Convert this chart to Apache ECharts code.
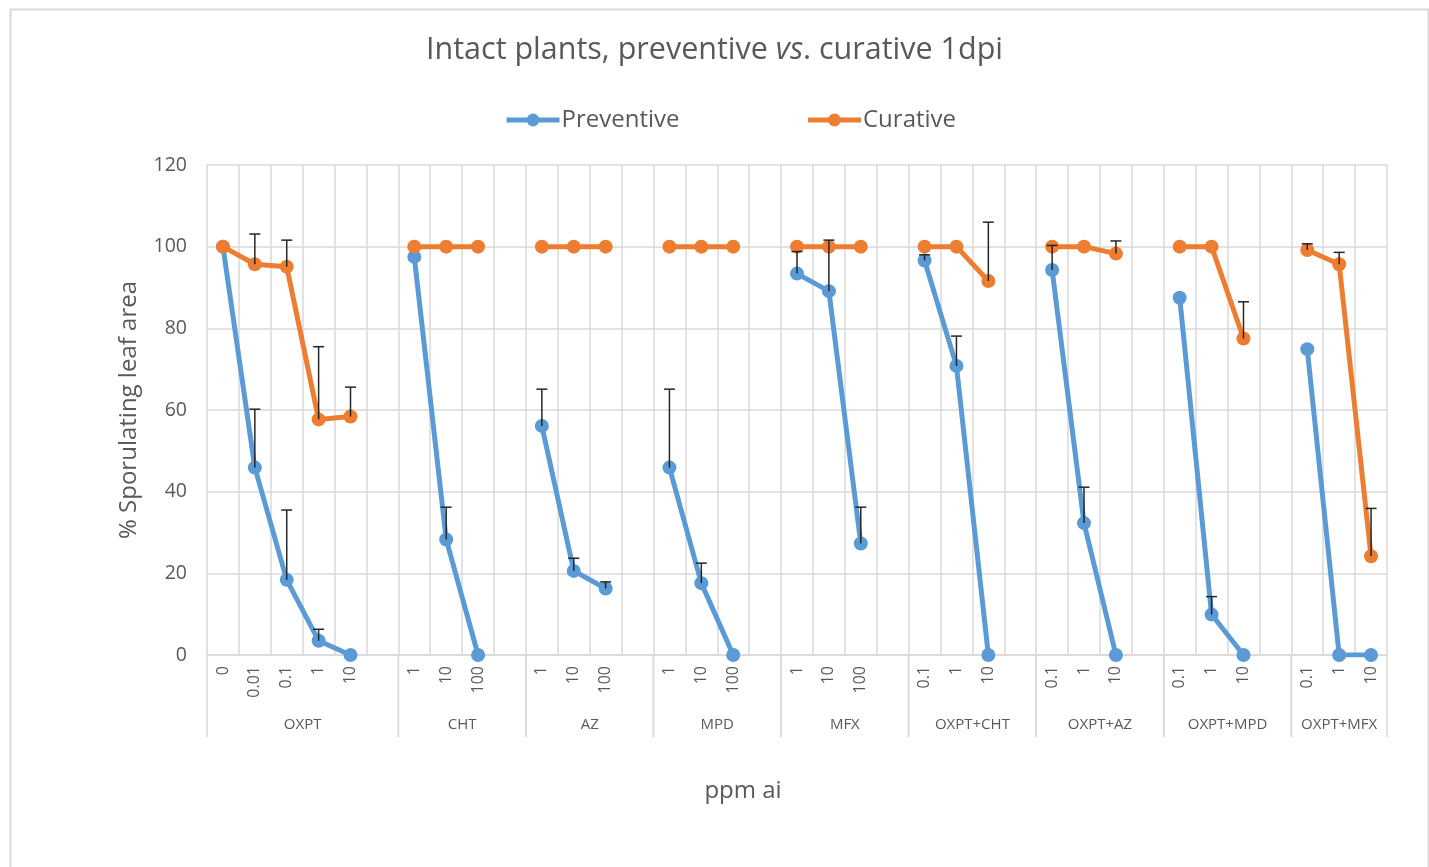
<!DOCTYPE html>
<html>
<head>
<meta charset="utf-8">
<script src="https://cdn.jsdelivr.net/npm/echarts@6/dist/echarts.min.js"></script>
<style>
html,body{margin:0;padding:0;background:#fff;}
#chart{width:1429px;height:867px;}
</style>
</head>
<body>
<div id="chart"></div>
<script>
// ---- data ----
const categories = [
  '0','0.01','0.1','1','10','',
  '1','10','100','',
  '1','10','100','',
  '1','10','100','',
  '1','10','100','',
  '0.1','1','10','',
  '0.1','1','10','',
  '0.1','1','10','',
  '0.1','1','10'
];
const groupNames = ['OXPT','CHT','AZ','MPD','MFX','OXPT+CHT','OXPT+AZ','OXPT+MPD','OXPT+MFX'];
const groupSizes = [6,4,4,4,4,4,4,4,3];

const preventive = [
  100, 45.9, 18.4, 3.5, 0, null,
  97.5, 28.3, 0, null,
  56.1, 20.6, 16.3, null,
  45.9, 17.6, 0, null,
  93.4, 89.1, 27.3, null,
  96.6, 70.8, 0, null,
  94.3, 32.3, 0, null,
  87.5, 9.9, 0, null,
  74.9, 0, 0
];
const preventiveErr = [
  null, 14.3, 17.1, 2.8, null, null,
  null, 7.9, null, null,
  9.0, 3.1, 1.6, null,
  19.2, 4.9, null, null,
  5.4, 12.5, 8.9, null,
  1.4, 7.3, null, null,
  6.0, 8.8, null, null,
  null, 4.4, null, null,
  null, null, null
];
const curative = [
  100, 95.7, 95.1, 57.7, 58.4, null,
  100, 100, 100, null,
  100, 100, 100, null,
  100, 100, 100, null,
  100, 100, 100, null,
  100, 100, 91.6, null,
  100, 100, 98.3, null,
  100, 100, 77.5, null,
  99.2, 95.7, 24.2
];
const curativeErr = [
  null, 7.4, 6.5, 17.8, 7.2, null,
  null, null, null, null,
  null, null, null, null,
  null, null, null, null,
  null, null, null, null,
  null, null, 14.4, null,
  null, null, 3.1, null,
  null, null, 9.0, null,
  1.5, 2.9, 11.7
];
const yTicks = {min: 0, max: 120, interval: 20};

// ---- derived ----
const groupData = [];
let start = 0;
groupSizes.forEach((n, i) => { groupData.push([start, start + n - 1, 0, i]); start += n; });

function errData(vals, errs) {
  const out = [];
  vals.forEach((v, i) => { if (v != null && errs[i] != null) out.push([i, v, v + errs[i]]); });
  return out;
}

const FONT = '"Open Sans", "Noto Sans", sans-serif';
const TXT = '#595959';
const GRID = '#d9d9d9';
const BLUE = '#5B9BD5';
const ORANGE = '#ED7D31';

function errRender(params, api) {
  const x = api.value(0);
  const lo = api.coord([x, api.value(1)]);
  const hi = api.coord([x, api.value(2)]);
  const half = 5.5;
  return {
    type: 'group',
    children: [
      {type: 'line', shape: {x1: lo[0], y1: lo[1], x2: hi[0], y2: hi[1]}, style: {stroke: '#262626', lineWidth: 1.5}},
      {type: 'line', shape: {x1: hi[0] - half, y1: hi[1], x2: hi[0] + half, y2: hi[1]}, style: {stroke: '#262626', lineWidth: 1.5}}
    ]
  };
}

const chart = echarts.init(document.getElementById('chart'), null, {renderer: 'canvas'});
chart.setOption({
  backgroundColor: '#fff',
  animation: false,
  graphic: [{
    type: 'rect', left: 8, top: 7, shape: {width: 1418, height: 880},
    style: {fill: 'none', stroke: GRID, lineWidth: 2}, silent: true
  }],
  title: {
    text: 'Intact plants, preventive {i|vs}. curative 1dpi',
    left: 'center', top: 30,
    textStyle: {
      fontFamily: FONT, fontSize: 30.5, fontWeight: 'normal', color: TXT,
      rich: {i: {fontFamily: FONT, fontSize: 30.5, fontStyle: 'italic', color: TXT}}
    }
  },
  legend: {
    left: 504, top: 108, padding: 0,
    itemWidth: 53, itemHeight: 16, itemGap: 126,
    lineStyle: {width: 5},
    textStyle: {fontFamily: FONT, fontSize: 24, color: TXT, padding: [0, 0, 0, -3]},
    data: ['Preventive', 'Curative']
  },
  grid: {left: 207, right: 42, top: 165, bottom: 212, containLabel: false},
  xAxis: {
    type: 'category',
    data: categories,
    boundaryGap: true,
    name: 'ppm ai',
    nameLocation: 'middle',
    nameGap: 124,
    nameTextStyle: {fontFamily: FONT, fontSize: 24, color: TXT, padding: [0, 108, 0, 0]},
    axisLine: {show: true, lineStyle: {color: GRID, width: 1.5}},
    axisTick: {show: false},
    splitLine: {show: true, interval: 0, lineStyle: {color: GRID, width: 1.5}},
    axisLabel: {interval: 0, rotate: 90, margin: 11, fontFamily: FONT, fontSize: 16, color: TXT}
  },
  yAxis: {
    type: 'value',
    min: yTicks.min, max: yTicks.max, interval: yTicks.interval,
    name: '% Sporulating leaf area',
    nameLocation: 'middle',
    nameGap: 66,
    nameTextStyle: {fontFamily: FONT, fontSize: 24, color: TXT},
    axisLine: {show: false},
    axisTick: {show: false},
    splitLine: {show: true, lineStyle: {color: GRID, width: 1.5}},
    axisLabel: {margin: 20, fontFamily: FONT, fontSize: 19.5, color: TXT}
  },
  series: [
    {
      name: 'Preventive', type: 'line', data: preventive, connectNulls: false,
      symbol: 'circle', symbolSize: 14, z: 2,
      lineStyle: {color: BLUE, width: 5}, itemStyle: {color: BLUE}
    },
    {
      name: 'Curative', type: 'line', data: curative, connectNulls: false,
      symbol: 'circle', symbolSize: 14, z: 3,
      lineStyle: {color: ORANGE, width: 5}, itemStyle: {color: ORANGE}
    },
    {
      type: 'custom', name: 'prevErr', data: errData(preventive, preventiveErr),
      encode: {x: 0, y: [1, 2]}, renderItem: errRender, z: 4, silent: true
    },
    {
      type: 'custom', name: 'curErr', data: errData(curative, curativeErr),
      encode: {x: 0, y: [1, 2]}, renderItem: errRender, z: 4, silent: true
    },
    {
      type: 'custom', name: 'groups', data: groupData, clip: false, silent: true,
      encode: {x: [0, 1], y: 2},
      renderItem: function (params, api) {
        const s = api.value(0), e = api.value(1), gi = api.value(3);
        const bw = api.size([1, 0])[0];
        const p0 = api.coord([s, 0]), p1 = api.coord([e, 0]);
        const x0 = p0[0] - bw / 2, x1 = p1[0] + bw / 2, y = p0[1];
        return {
          type: 'group',
          children: [
            {type: 'line', shape: {x1: x0, y1: y, x2: x0, y2: y + 82}, style: {stroke: GRID, lineWidth: 1.5}},
            {type: 'line', shape: {x1: x1, y1: y, x2: x1, y2: y + 82}, style: {stroke: GRID, lineWidth: 1.5}},
            {type: 'text', x: (x0 + x1) / 2, y: y + 70,
             style: {text: groupNames[gi], fill: TXT, fontFamily: FONT, fontSize: 15, align: 'center', verticalAlign: 'middle'}}
          ]
        };
      }
    }
  ]
});
</script>
</body>
</html>
